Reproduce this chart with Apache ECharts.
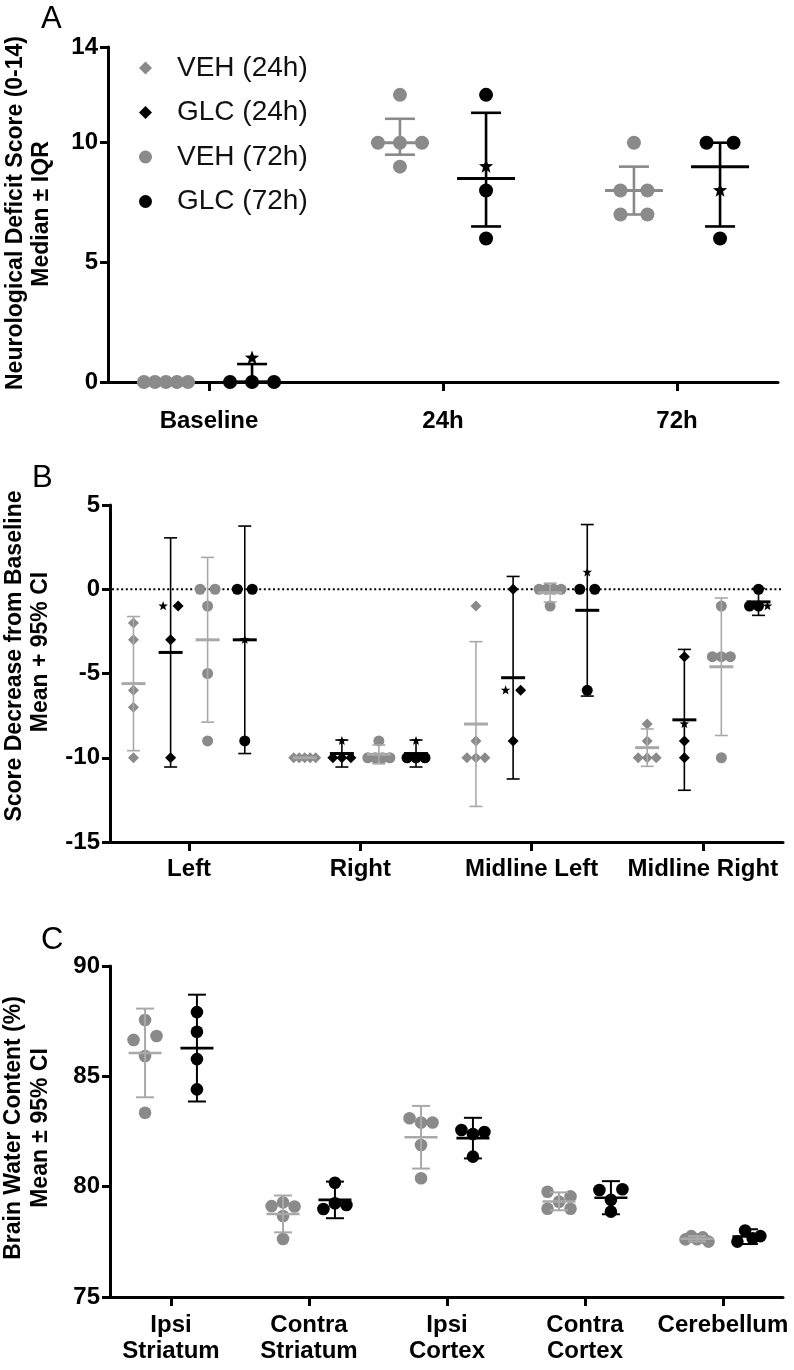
<!DOCTYPE html>
<html><head><meta charset="utf-8">
<script src="https://cdn.jsdelivr.net/npm/echarts@6/dist/echarts.min.js"></script>
<style>html,body{margin:0;padding:0;background:#fff}#c{width:794px;height:1370px}</style>
</head><body><div id="c"></div>
<script>
// ---------------- Panel A : Neurological deficit score (median ± IQR) ----------------
const catsA = ['Baseline', '24h', '72h'];
const yTicksA = [0, 5, 10, 14];
const vehA = [[0, 0, 0, 0, 0], [12, 10, 10, 10, 9], [10, 8, 8, 7, 7]];
const glcA = [[0, 1, 0, 0], [12, 9, 8, 6], [10, 10, 8, 6]];
const glcStarA = [1, 1, 2];            // index of the starred animal in each GLC group
const vehMedA = [0, 10, 8], vehQ1A = [0, 9.5, 7], vehQ3A = [0, 11, 9];
const glcMedA = [0, 8.5, 9], glcQ1A = [0, 6.5, 6.5], glcQ3A = [0.75, 11.25, 10];

// ---------------- Panel B : Score decrease from baseline (mean + 95% CI) ----------------
const catsB = ['Left', 'Right', 'Midline Left', 'Midline Right'];
const veh24B = [[-2, -3, -6, -7, -10], [-10, -10, -10, -10, -10], [-1, -9, -10, -10, -10], [-8, -9, -10, -10, -10]];
const glc24B = [[-1, -1, -3, -10], [-10, -10, -10, -9], [0, -6, -6, -9], [-4, -8, -9, -10]];
const glc24StarB = [0, 3, 1, 1];
const veh72B = [[0, 0, -1, -5, -9], [-9, -10, -10, -10, -10], [0, 0, 0, 0, -1], [-1, -4, -4, -4, -10]];
const glc72B = [[0, 0, -3, -9], [-10, -10, -10, -9], [0, 0, 1, -6], [0, -1, -1, -1]];
const glc72StarB = [2, 3, 2, 3];
const veh24MeanB = [-5.6, -10, -8, -9.4], veh24LoB = [-9.58, -10, -12.89, -10.51], veh24HiB = [-1.62, -10, -3.11, -8.29];
const glc24MeanB = [-3.75, -9.75, -5.25, -7.75], glc24LoB = [-10.55, -10.55, -11.26, -11.93], glc24HiB = [3.05, -8.95, 0.76, -3.57];
const veh72MeanB = [-3, -9.8, -0.2, -4.6], veh72LoB = [-7.89, -10.36, -0.76, -8.68], veh72HiB = [1.89, -9.24, 0.36, -0.52];
const glc72MeanB = [-3, -9.75, -1.25, -0.75], glc72LoB = [-9.75, -10.55, -6.34, -1.55], glc72HiB = [3.75, -8.95, 3.84, 0.05];

// ---------------- Panel C : Brain water content (mean ± 95% CI) ----------------
const catsC = ['Ipsi\nStriatum', 'Contra\nStriatum', 'Ipsi\nCortex', 'Contra\nCortex', 'Cerebellum'];
const vehC = [[87.55, 86.65, 86.83, 85.92, 83.35], [79.12, 79.29, 79.1, 78.67, 77.63], [83.1, 82.91, 82.91, 81.89, 80.38], [79.77, 79.32, 79.56, 79.0, 79.0], [77.61, 77.76, 77.62, 77.7, 77.51]];
const glcC = [[87.91, 87.02, 85.78, 84.41], [80.18, 78.99, 79.25, 79.17], [82.57, 82.39, 82.48, 81.36], [79.85, 79.88, 79.4, 78.87], [77.51, 78.01, 77.66, 77.76]];
const vehMeanC = [86.06, 78.76, 82.24, 79.33, 77.64], vehLoC = [84.05, 77.93, 80.82, 78.93, 77.52], vehHiC = [88.07, 79.6, 83.66, 79.74, 77.76];
const glcMeanC = [86.28, 79.4, 82.2, 79.5, 77.74], glcLoC = [83.86, 78.57, 81.28, 78.75, 77.4], glcHiC = [88.7, 80.23, 83.12, 80.25, 78.07];

// ---------------- styling ----------------
const GREY = '#8a8a8a', BLACK = '#000', LIGHT = '#a9a9a9';
const FONT = '"Liberation Sans", Arial, Helvetica, sans-serif';

function shapeFor(kind, x, y, r, color) {
  if (kind === 'circle') return { type: 'circle', shape: { cx: x, cy: y, r: r }, style: { fill: color } };
  if (kind === 'diamond') return { type: 'polygon', shape: { points: [[x, y - r], [x + r, y], [x, y + r], [x - r, y]] }, style: { fill: color } };
  const pts = [];
  for (let k = 0; k < 10; k++) {
    const a = -Math.PI / 2 + k * Math.PI / 5;
    const rr = k % 2 === 0 ? r : r * 0.42;
    pts.push([x + rr * Math.cos(a), y + rr * Math.sin(a)]);
  }
  return { type: 'polygon', shape: { points: pts }, style: { fill: color } };
}

function groupSeries(o) {
  return {
    type: 'custom', name: o.name, xAxisIndex: o.g, yAxisIndex: o.g, clip: false, z: 3,
    itemStyle: { color: o.color },
    data: o.center.map((c, i) => [i, c, o.low[i], o.high[i]]),
    encode: { x: 0, y: 1 },
    renderItem: function (params, api) {
      const i = api.value(0);
      const xc = i + o.off;
      const cx = api.coord([xc, 0])[0];
      const vals = o.values[i];
      const pts = vals.map((v, k) => ({ v: v, k: k, py: api.coord([xc, v])[1], star: !!(o.star && o.star[i] === k) }));
      const sorted = pts.slice().sort((a, b) => a.py - b.py);
      const rows = []; let cur = [sorted[0]];
      for (let j = 1; j < sorted.length; j++) {
        if (sorted[j].py - sorted[j - 1].py < o.T) cur.push(sorted[j]); else { rows.push(cur); cur = [sorted[j]]; }
      }
      rows.push(cur);
      rows.forEach(r => {
        r.sort((a, b) => a.k - b.k);
        const n = r.length;
        const sp = n === 1 ? 0 : (n === 2 ? o.s2 : Math.min(o.s3, o.W / (n - 1)));
        r.forEach((p, j) => { p.px = cx + (j - (n - 1) / 2) * sp; });
      });
      const children = [];
      pts.forEach(p => children.push(shapeFor(p.star ? 'star' : o.shape, p.px, p.py, p.star ? o.starR : o.r, p.star ? BLACK : o.color)));
      const yc = api.coord([xc, api.value(1)])[1];
      const yl = api.coord([xc, api.value(2)])[1];
      const yh = api.coord([xc, api.value(3)])[1];
      const bs = { stroke: o.barColor, lineWidth: o.barW };
      if (Math.abs(yl - yh) > 0.5) {
        children.push({ type: 'line', shape: { x1: cx, y1: yl, x2: cx, y2: yh }, style: bs });
        children.push({ type: 'line', shape: { x1: cx - o.cap / 2, y1: yl, x2: cx + o.cap / 2, y2: yl }, style: bs });
        children.push({ type: 'line', shape: { x1: cx - o.cap / 2, y1: yh, x2: cx + o.cap / 2, y2: yh }, style: bs });
      }
      children.push({ type: 'line', shape: { x1: cx - o.meanW / 2, y1: yc, x2: cx + o.meanW / 2, y2: yc }, style: { stroke: o.barColor, lineWidth: o.meanLW } });
      return { type: 'group', children: children };
    }
  };
}

const styleA = { g: 0, s2: 27, s3: 22, W: 44, T: 6, r: 7, starR: 7.5, barW: 2.6, cap: 30, meanW: 58, meanLW: 3 };
const styleB = { g: 1, s2: 15, s3: 9, W: 22, T: 6, r: 5.5, starR: 5, barW: 1.6, cap: 13, meanW: 24, meanLW: 3 };
const styleC = { g: 2, s2: 23, s3: 11.5, W: 23, T: 6, r: 6.3, starR: 6, barW: 2, cap: 18, meanW: 33, meanLW: 2.6 };

const series = [
  groupSeries(Object.assign({}, styleA, { name: 'VEH (72h)', off: -0.184, values: vehA, center: vehMedA, low: vehQ1A, high: vehQ3A, shape: 'circle', color: GREY, barColor: GREY })),
  groupSeries(Object.assign({}, styleA, { name: 'GLC (72h)', off: 0.184, values: glcA, star: glcStarA, center: glcMedA, low: glcQ1A, high: glcQ3A, shape: 'circle', color: BLACK, barColor: BLACK })),
  {
    type: 'custom', xAxisIndex: 1, yAxisIndex: 1, z: 1, silent: true, data: [[0, 0]], encode: { x: 0, y: 1 },
    renderItem: function (params, api) {
      const cs = params.coordSys; const y = api.coord([0, 0])[1];
      return { type: 'line', shape: { x1: cs.x + 2, y1: y, x2: cs.x + cs.width, y2: y }, style: { stroke: '#000', lineWidth: 2, lineDash: [2, 2.6] } };
    }
  },
  groupSeries(Object.assign({}, styleB, { name: 'VEH (24h)', off: -0.325, values: veh24B, center: veh24MeanB, low: veh24LoB, high: veh24HiB, shape: 'diamond', color: GREY, barColor: LIGHT })),
  groupSeries(Object.assign({}, styleB, { name: 'GLC (24h)', off: -0.108, values: glc24B, star: glc24StarB, center: glc24MeanB, low: glc24LoB, high: glc24HiB, shape: 'diamond', color: BLACK, barColor: BLACK })),
  groupSeries(Object.assign({}, styleB, { name: 'VEH (72h)', off: 0.108, values: veh72B, center: veh72MeanB, low: veh72LoB, high: veh72HiB, shape: 'circle', color: GREY, barColor: LIGHT })),
  groupSeries(Object.assign({}, styleB, { name: 'GLC (72h)', off: 0.325, values: glc72B, star: glc72StarB, center: glc72MeanB, low: glc72LoB, high: glc72HiB, shape: 'circle', color: BLACK, barColor: BLACK })),
  groupSeries(Object.assign({}, styleC, { name: 'VEH (72h)', off: -0.188, values: vehC, center: vehMeanC, low: vehLoC, high: vehHiC, shape: 'circle', color: GREY, barColor: LIGHT })),
  groupSeries(Object.assign({}, styleC, { name: 'GLC (72h)', off: 0.188, values: glcC, center: glcMeanC, low: glcLoC, high: glcHiC, shape: 'circle', color: BLACK, barColor: BLACK }))
];

const axisLine = { show: true, onZero: false, lineStyle: { color: '#000', width: 3 } };
function xAx(g, min, max, cats, margin, extra) {
  const vals = cats.map((c, i) => i);
  return Object.assign({
    type: 'value', gridIndex: g, min: min, max: max, axisLine: axisLine, splitLine: { show: false },
    axisTick: { show: true, length: 9, customValues: vals, lineStyle: { color: '#000', width: 3 } },
    axisLabel: { customValues: vals, formatter: v => cats[Math.round(v)], margin: margin, color: '#000', fontSize: 24, fontWeight: 'bold', fontFamily: FONT, lineHeight: 26 }
  }, extra || {});
}
function yAx(g, min, max, interval, custom) {
  const ax = {
    type: 'value', gridIndex: g, min: min, max: max, axisLine: axisLine, splitLine: { show: false },
    axisTick: { show: true, length: 8, lineStyle: { color: '#000', width: 3 } },
    axisLabel: { margin: 10, color: '#000', fontSize: 24, fontWeight: 'bold', fontFamily: FONT }
  };
  if (custom) { ax.axisTick.customValues = custom; ax.axisLabel.customValues = custom; } else { ax.interval = interval; }
  return ax;
}

function vtext(txt, x, y) {
  return { type: 'text', x: x, y: y, rotation: Math.PI / 2, style: { text: txt, font: 'bold 23px ' + FONT, fill: '#000', textAlign: 'center', textVerticalAlign: 'middle', align: 'center', verticalAlign: 'middle' } };
}
function letter(txt, x, y) {
  return { type: 'text', x: x, y: y, style: { text: txt, font: '31px ' + FONT, fill: '#000', textAlign: 'left', textVerticalAlign: 'middle', align: 'left', verticalAlign: 'middle' } };
}

const chart = echarts.init(document.getElementById('c'), null, { renderer: 'canvas' });
chart.setOption({
  animation: false,
  backgroundColor: '#fff',
  grid: [
    { left: 108, right: 16, top: 47, height: 335 },
    { left: 110, right: 11, top: 505, height: 337 },
    { left: 110, right: 11, top: 966, height: 331 }
  ],
  xAxis: [
    xAx(0, -0.4316, 2.4316, catsA, 26),
    xAx(1, -0.462, 3.468, catsB, 14),
    xAx(2, -0.442, 4.435, catsC, 15)
  ],
  yAxis: [
    yAx(0, 0, 14, null, yTicksA),
    yAx(1, -15, 5, 5),
    yAx(2, 75, 90, 5)
  ],
  legend: {
    orient: 'vertical', left: 134, top: 49, itemWidth: 13, itemHeight: 13, itemGap: 16.5, selectedMode: false,
    textStyle: { fontSize: 28, fontFamily: FONT, color: '#111', padding: [0, 0, 0, 20] },
    data: [
      { name: 'VEH (24h)', icon: 'diamond', itemStyle: { color: GREY } },
      { name: 'GLC (24h)', icon: 'diamond', itemStyle: { color: BLACK } },
      { name: 'VEH (72h)', icon: 'circle', itemStyle: { color: GREY } },
      { name: 'GLC (72h)', icon: 'circle', itemStyle: { color: BLACK } }
    ]
  },
  graphic: [
    letter('A', 41, 19), letter('B', 32, 478), letter('C', 41, 940),
    vtext('Neurological Deficit Score (0-14)', 16, 213),
    vtext('Median ± IQR', 42, 214),
    vtext('Score Decrease from Baseline', 15, 656),
    vtext('Mean + 95% CI', 41, 652),
    vtext('Brain Water Content (%)', 14, 1128),
    vtext('Mean ± 95% CI', 41, 1128)
  ],
  series: series
});
</script>
</body></html>
